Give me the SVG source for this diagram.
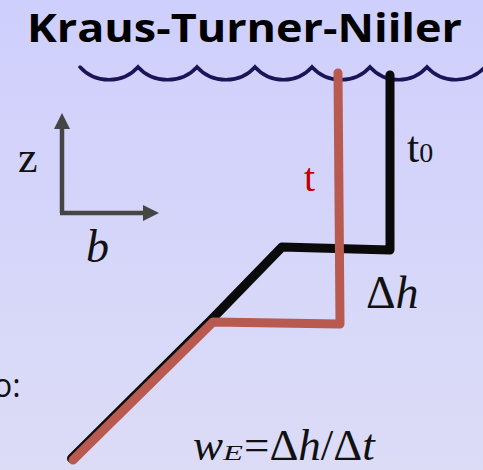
<svg xmlns="http://www.w3.org/2000/svg" width="483" height="470" viewBox="0 0 483 470">
  <defs>
    <linearGradient id="bg" x1="0" y1="0" x2="0" y2="1">
      <stop offset="0" stop-color="#cfcffd"/>
      <stop offset="1" stop-color="#dcdcf7"/>
    </linearGradient>
    <marker id="ah" viewBox="0 0 16 16" refX="2" refY="8" markerWidth="16" markerHeight="16" markerUnits="userSpaceOnUse" orient="auto">
      <path d="M0,0 L16,8 L0,16 Z" fill="#454545"/>
    </marker>
    <style>
      .serif { font-family: "Liberation Serif", "Times New Roman", serif; fill: #111; }
      .it { font-style: italic; }
      .axis { stroke: #454545; stroke-width: 4.5; fill: none; }
      .wave { stroke: #1c1458; stroke-width: 3.5; fill: none; stroke-linecap: round; }
      .blk { stroke: #0a0a0a; stroke-width: 9; fill: none; stroke-linecap: round; stroke-linejoin: round; }
      .red { stroke: #b85a50; stroke-width: 9; fill: none; stroke-linecap: round; stroke-linejoin: round; }
    </style>
  </defs>
  <rect x="0" y="0" width="483" height="470" fill="url(#bg)"/>

  <g id="title">
    <text x="27" y="42" font-family="'Open Sans', 'Liberation Sans', sans-serif" font-weight="700" font-size="40" textLength="435" lengthAdjust="spacingAndGlyphs" fill="#000">Kraus-Turner-Niiler</text>
  </g>

  <g id="surface">
    <path class="wave" d="M80,67 C95,84 123,84 138,67 C153,84 182,84 197,67 C212,84 240,84 255,67 C270,84 297,84 312,67 C327,84 355,84 370,67 C385,84 412,84 427,67 C442,84 470,84 485,67"/>
  </g>

  <g id="axes">
    <path class="axis" d="M62,213 L62,127" marker-end="url(#ah)"/>
    <path class="axis" d="M60,213 L145,213" marker-end="url(#ah)"/>
    <text class="serif" x="18" y="172" font-size="44">z</text>
    <text class="serif it" x="86" y="262" font-size="46">b</text>
  </g>

  <g id="connectors">
    <g id="profile-t0">
      <path class="blk" d="M390,75 L390,250 L282,247 L211,320 L71.5,458.5"/>
    </g>
    <g id="profile-t">
      <path class="red" d="M338,73 L340,324 L213,322 L73,460"/>
    </g>
  </g>

  <g id="labels">
    <text class="serif" x="407" y="162" font-size="44">t<tspan font-size="28">0</tspan></text>
    <text class="serif" x="304" y="191" font-size="40" style="fill:#c00000">t</text>
    <text class="serif" x="366" y="308" font-size="46">Δ<tspan class="it">h</tspan></text>
    <text class="serif" y="460" font-size="45"><tspan class="it" x="193">w</tspan><tspan class="it" x="223" font-size="22" textLength="20" lengthAdjust="spacingAndGlyphs">E</tspan><tspan x="244">=Δ</tspan><tspan class="it">h</tspan><tspan>/Δ</tspan><tspan class="it">t</tspan></text>
    <text x="-7" y="397" font-family="'Open Sans', 'Liberation Sans', sans-serif" font-size="32" fill="#111">o:</text>
  </g>
</svg>
